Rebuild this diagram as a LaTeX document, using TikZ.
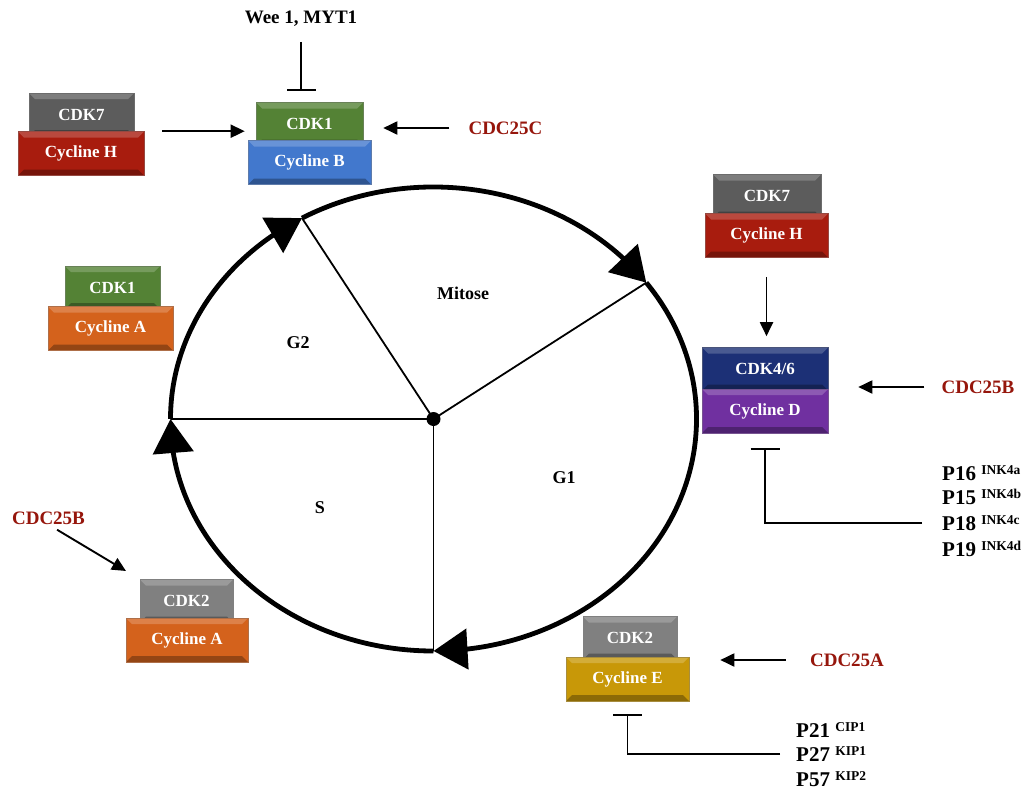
\documentclass[tikz,border=0pt]{standalone}
\usepackage{fontspec}
\setmainfont{Liberation Serif}
\usetikzlibrary{arrows.meta,bending}

\definecolor{cdkgray}{RGB}{92,92,92}
\definecolor{cdklight}{RGB}{128,128,128}
\definecolor{cycred}{RGB}{168,28,14}
\definecolor{cdkgreen}{RGB}{84,130,53}
\definecolor{cycblue}{RGB}{66,120,205}
\definecolor{cdknavy}{RGB}{28,48,118}
\definecolor{cycpurple}{RGB}{112,48,160}
\definecolor{cycorange}{RGB}{212,98,28}
\definecolor{cycgold}{RGB}{200,152,8}
\definecolor{cdcred}{RGB}{150,22,12}

\newcommand{\boxfont}{\fontsize{17}{18}\selectfont\bfseries}
\newcommand{\labfont}{\fontsize{19}{22}\selectfont\bfseries}
\newcommand{\phasefont}{\fontsize{18}{20}\selectfont\bfseries}
\newcommand{\inkfont}{\fontsize{21}{25}\selectfont\bfseries}
\newcommand{\sups}[1]{\raisebox{6pt}{\fontsize{13.5}{14}\selectfont #1}}

\tikzset{
  bevel/.style={rectangle, inner sep=0pt, fill=#1, draw=#1!55!gray, line width=0.6pt,
    text=white, font=\boxfont,
    path picture={
      \fill[#1!80!white] (path picture bounding box.north west) -- (path picture bounding box.north east)
        -- ([shift={(-6pt,-6pt)}]path picture bounding box.north east)
        -- ([shift={(6pt,-6pt)}]path picture bounding box.north west) -- cycle;
      \fill[#1!70!black] (path picture bounding box.south west) -- (path picture bounding box.south east)
        -- ([shift={(-6pt,6pt)}]path picture bounding box.south east)
        -- ([shift={(6pt,6pt)}]path picture bounding box.south west) -- cycle;
    }},
  kinbox/.style={bevel=#1, minimum height=43pt},
  cycbox/.style={bevel=#1, minimum height=44pt},
  reg/.style={font=\labfont, text=cdcred, inner sep=0pt},
  phase/.style={font=\phasefont, inner sep=0pt},
  inktxt/.style={font=\inkfont, inner sep=0pt, anchor=base west},
  act/.style={-{Triangle[length=14pt,width=13pt]}, line width=1.9pt},
  inh/.style={-{Bar[width=29pt]}, line width=1.9pt},
  spoke/.style={line width=1.8pt},
  phasearc/.style={line width=4.8pt, -{Triangle[length=34pt,width=40pt,flex]}}
}

\begin{document}
\begin{tikzpicture}[x=1pt,y=-1pt]
  \useasboundingbox (0,0) rectangle (1025,787);

  \node[kinbox=cdkgray,minimum width=105pt] (cdk7a) at (81.5,114.5) {CDK7};
  \node[cycbox=cycred,minimum width=126pt] (cych1) at (81,153.5) {Cycline H};

  \node[kinbox=cdkgreen,minimum width=107pt] (cdk1b) at (309.5,124) {CDK1};
  \node[cycbox=cycblue,minimum width=123pt] (cycb) at (309.5,162.5) {Cycline B};

  \node[kinbox=cdkgray,minimum width=108pt] (cdk7b) at (767,196) {CDK7};
  \node[cycbox=cycred,minimum width=123pt] (cych2) at (766.5,235.5) {Cycline H};

  \node[kinbox=cdknavy,minimum width=126pt] (cdk46) at (765,369) {CDK4/6};
  \node[cycbox=cycpurple,minimum width=126pt] (cycd) at (765,411) {Cycline D};

  \node[kinbox=cdkgreen,minimum width=95pt] (cdk1a) at (112.5,287.5) {CDK1};
  \node[cycbox=cycorange,minimum width=125pt] (cyca1) at (110.5,328.5) {Cycline A};

  \node[kinbox=cdklight,minimum width=93pt] (cdk2a) at (186.5,601) {CDK2};
  \node[cycbox=cycorange,minimum width=122pt] (cyca2) at (187,640) {Cycline A};

  \node[kinbox=cdklight,minimum width=94pt] (cdk2b) at (630,638) {CDK2};
  \node[cycbox=cycgold,minimum width=123pt] (cyce) at (627.5,679) {Cycline E};

  \node[font=\labfont, inner sep=0pt] (wee) at (301,19) {Wee 1, MYT1};
  \node[reg] (cdc25c) at (505.5,128) {CDC25C};
  \node[reg] (cdc25b) at (978,387) {CDC25B};
  \node[reg] (cdc25a) at (847,660) {CDC25A};
  \node[reg] (cdc25bl) at (48.5,518) {CDC25B};

  \node[inktxt] (ink4a) at (942,480) {P16 \sups{INK4a}};
  \node[inktxt] (ink4b) at (942,504) {P15 \sups{INK4b}};
  \node[inktxt] (ink4c) at (942,530) {P18 \sups{INK4c}};
  \node[inktxt] (ink4d) at (942,556) {P19 \sups{INK4d}};

  \node[inktxt] (cip1) at (796,737) {P21 \sups{CIP1}};
  \node[inktxt] (kip1) at (796,761) {P27 \sups{KIP1}};
  \node[inktxt] (kip2) at (796,786) {P57 \sups{KIP2}};

  \coordinate (hubc) at (433.5,419);
  \path (hubc) ++(180:263pt and 232pt) coordinate (bSG2);
  \path (hubc) ++(120:263pt and 232pt) coordinate (bG2M);
  \path (hubc) ++(36:263pt and 232pt) coordinate (bMG1);
  \path (hubc) ++(270:263pt and 232pt) coordinate (bG1S);

  \draw[phasearc] (bG1S) arc[start angle=270, end angle=180, x radius=263pt, y radius=232pt];
  \draw[phasearc] (bSG2) arc[start angle=180, end angle=120, x radius=263pt, y radius=232pt];
  \draw[phasearc] (bG2M) arc[start angle=120, end angle=36, x radius=263pt, y radius=232pt];
  \draw[phasearc] (bMG1) arc[start angle=36, end angle=-90, x radius=263pt, y radius=232pt];

  \node[circle, fill=black, inner sep=0pt, minimum size=14pt] (hub) at (hubc) {};
  \draw[spoke] (hub.center) -- (bSG2);
  \draw[spoke] (hub.center) -- (bG2M);
  \draw[spoke] (hub.center) -- (bMG1);
  \draw[spoke] (hub.center) -- (bG1S);

  \node[phase] (mit) at (463,293) {Mitose};
  \node[phase] (g2) at (298,343) {G2};
  \node[phase] (sph) at (320,508) {S};
  \node[phase] (g1) at (564,478) {G1};

  \draw[act, shorten <=18pt, shorten >=3pt] (cych1.north east) -- (cych1.north east -| cycb.west);
  \draw[act, shorten <=19pt, shorten >=20pt] (cdc25c.west) -- (cdc25c.west -| cdk1b.east);
  \draw[inh, shorten <=15pt, shorten >=11pt] (wee.south) -- (wee.south |- cdk1b.north);
  \draw[act, shorten <=19pt, shorten >=11pt] (cych2.south) -- (cych2.south |- cdk46.north);
  \draw[act, shorten <=17pt, shorten >=30pt] (cdc25b.west) -- (cdc25b.west -| cdk46.east);
  \draw[inh, shorten <=20pt, shorten >=15pt] (ink4c.west) -| (cycd.south);
  \draw[act, shorten <=24pt, shorten >=31pt] (cdc25a.west) -- (cdc25a.west -| cyce.east);
  \draw[inh, shorten <=16pt, shorten >=13pt] (kip1.west) -| (cyce.south);
  \draw[act, shorten <=10pt, shorten >=16pt] (cdc25bl.south) -- (cdk2a.north west);
\end{tikzpicture}
\end{document}
